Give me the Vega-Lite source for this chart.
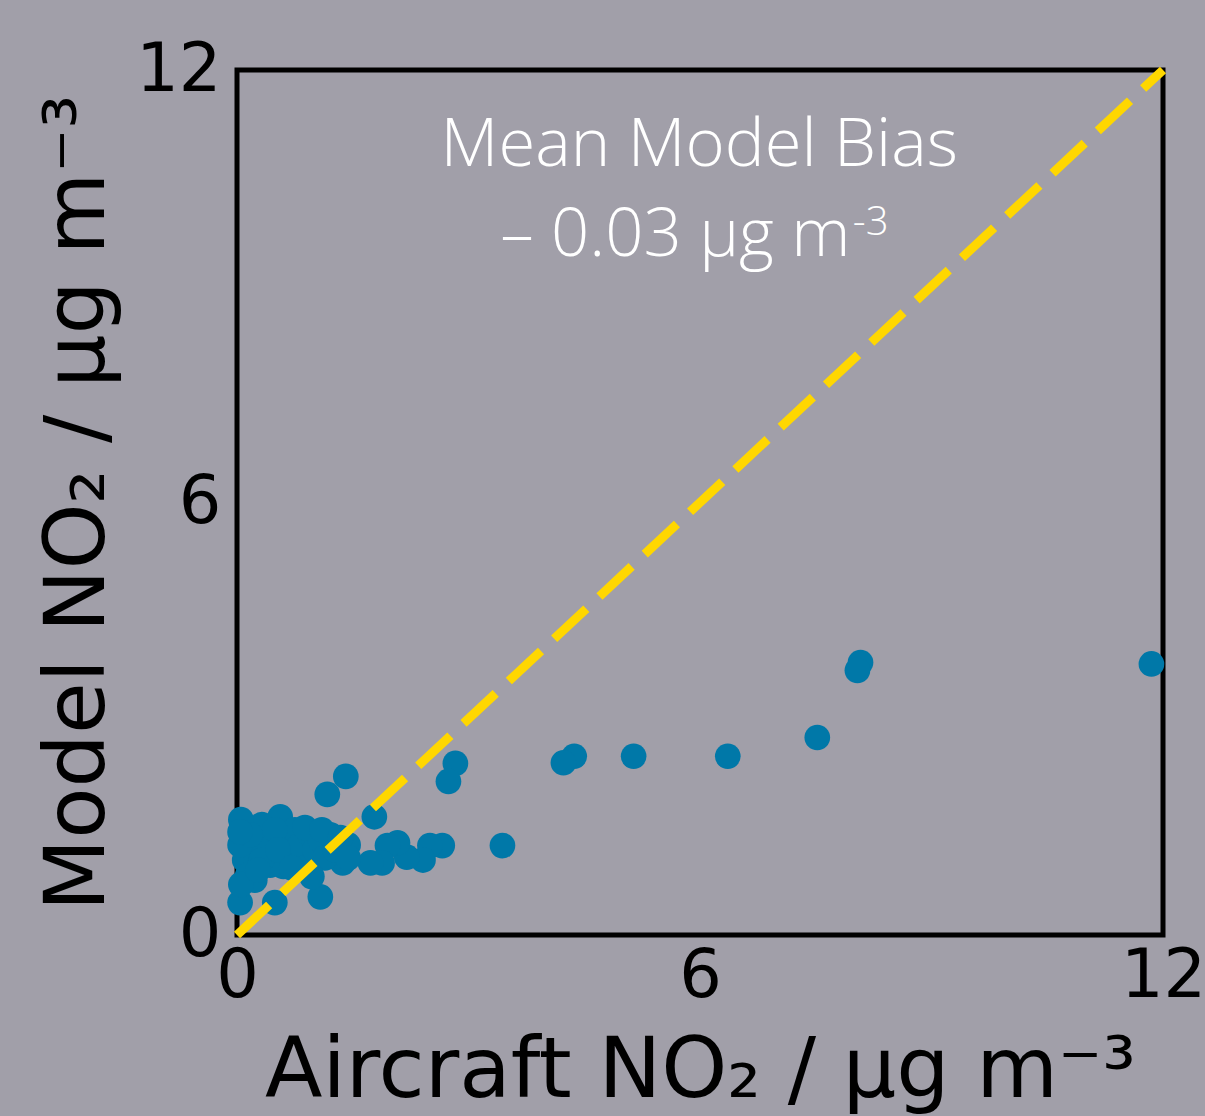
{
  "$schema": "https://vega.github.io/schema/vega-lite/v6.json",
  "width": 926,
  "height": 865,
  "autosize": {"type": "none"},
  "padding": {"left": 237, "top": 70, "right": 42, "bottom": 181},
  "background": "#a19fa9",
  "config": {
    "view": {"stroke": "black", "strokeWidth": 5, "fill": null},
    "axis": {
      "grid": false,
      "ticks": false,
      "domain": false,
      "format": "d",
      "labelFont": "DejaVu Sans",
      "labelFontSize": 67,
      "labelColor": "black",
      "labelOverlap": false,
      "labelFlush": false,
      "labelBound": false,
      "titleFont": "DejaVu Sans",
      "titleFontSize": 84,
      "titleFontWeight": "normal",
      "titleColor": "black"
    }
  },
  "datasets": {
    "pts": [
      {"aircraft": 11.85, "model": 3.76},
      {"aircraft": 8.08, "model": 3.78},
      {"aircraft": 8.04, "model": 3.67},
      {"aircraft": 7.52, "model": 2.74},
      {"aircraft": 6.36, "model": 2.48},
      {"aircraft": 5.14, "model": 2.48},
      {"aircraft": 4.37, "model": 2.48},
      {"aircraft": 4.23, "model": 2.39},
      {"aircraft": 2.83, "model": 2.38},
      {"aircraft": 2.74, "model": 2.13},
      {"aircraft": 3.44, "model": 1.24},
      {"aircraft": 1.41, "model": 2.2},
      {"aircraft": 1.17, "model": 1.95},
      {"aircraft": 1.78, "model": 1.64},
      {"aircraft": 2.66, "model": 1.24},
      {"aircraft": 2.5, "model": 1.24},
      {"aircraft": 2.41, "model": 1.04},
      {"aircraft": 2.2, "model": 1.08},
      {"aircraft": 2.08, "model": 1.28},
      {"aircraft": 1.95, "model": 1.24},
      {"aircraft": 1.88, "model": 1.0},
      {"aircraft": 1.73, "model": 1.0},
      {"aircraft": 1.37, "model": 1.0},
      {"aircraft": 1.37, "model": 1.28},
      {"aircraft": 1.08, "model": 0.53},
      {"aircraft": 0.49, "model": 0.45},
      {"aircraft": 0.04, "model": 0.45},
      {"aircraft": 0.12, "model": 1.46},
      {"aircraft": 0.17, "model": 1.25},
      {"aircraft": 0.1, "model": 1.04},
      {"aircraft": 0.14, "model": 0.83},
      {"aircraft": 0.27, "model": 1.35},
      {"aircraft": 0.36, "model": 1.18},
      {"aircraft": 0.43, "model": 0.97},
      {"aircraft": 0.56, "model": 1.64},
      {"aircraft": 0.62, "model": 1.32},
      {"aircraft": 0.69, "model": 1.11},
      {"aircraft": 0.75, "model": 1.46},
      {"aircraft": 0.82, "model": 1.25},
      {"aircraft": 0.88, "model": 0.93},
      {"aircraft": 0.95, "model": 1.39},
      {"aircraft": 1.01, "model": 1.18},
      {"aircraft": 1.08, "model": 1.32},
      {"aircraft": 1.14, "model": 1.07},
      {"aircraft": 1.21, "model": 1.39},
      {"aircraft": 1.27, "model": 1.18},
      {"aircraft": 0.23, "model": 0.76},
      {"aircraft": 0.97, "model": 0.81},
      {"aircraft": 0.32, "model": 1.53},
      {"aircraft": 0.04, "model": 1.25},
      {"aircraft": 0.49, "model": 1.46},
      {"aircraft": 1.44, "model": 1.25},
      {"aircraft": 0.05, "model": 1.6},
      {"aircraft": 0.3, "model": 1.0},
      {"aircraft": 0.6, "model": 0.95},
      {"aircraft": 0.05, "model": 0.7},
      {"aircraft": 0.17, "model": 1.39},
      {"aircraft": 0.32, "model": 1.04},
      {"aircraft": 0.53, "model": 1.18},
      {"aircraft": 0.71, "model": 0.93},
      {"aircraft": 0.88, "model": 1.49},
      {"aircraft": 1.1, "model": 1.46},
      {"aircraft": 1.34, "model": 1.35},
      {"aircraft": 1.44, "model": 1.07},
      {"aircraft": 0.27, "model": 0.9},
      {"aircraft": 0.04, "model": 1.43}
    ],
    "diag": [{"aircraft": 0, "model": 0}, {"aircraft": 12, "model": 12}],
    "ann1": [{"x": 5.99, "y": 10.67, "t": "Mean Model Bias"}],
    "ann2": [{"x": 7.95, "y": 9.42, "t": "– 0.03 μg m"}],
    "sup": [{"x": 7.98, "y": 9.71, "t": "-3"}]
  },
  "layer": [
    {
      "data": {"name": "pts"},
      "mark": {"type": "circle", "size": 660, "opacity": 1, "color": "#0078a8"},
      "encoding": {
        "x": {
          "field": "aircraft", "type": "quantitative",
          "scale": {"domain": [0, 12], "nice": false},
          "axis": {"values": [0, 6, 12], "labelPadding": 8, "title": "Aircraft NO₂ / μg m⁻³", "titlePadding": 21}
        },
        "y": {
          "field": "model", "type": "quantitative",
          "scale": {"domain": [0, 12], "nice": false},
          "axis": {"values": [0, 6, 12], "labelPadding": 16, "title": "Model NO₂ / μg m⁻³", "titlePadding": 14}
        }
      }
    },
    {
      "data": {"name": "diag"},
      "mark": {"type": "line", "color": "#ffd700", "strokeWidth": 9, "strokeDash": [44, 18], "strokeCap": "butt"},
      "encoding": {
        "x": {"field": "aircraft", "type": "quantitative"},
        "y": {"field": "model", "type": "quantitative"}
      }
    },
    {
      "data": {"name": "ann1"},
      "mark": {"type": "text", "font": "Open Sans", "fontWeight": 300, "fontSize": 67, "color": "white", "align": "center", "baseline": "alphabetic"},
      "encoding": {
        "x": {"field": "x", "type": "quantitative"},
        "y": {"field": "y", "type": "quantitative"},
        "text": {"field": "t"}
      }
    },
    {
      "data": {"name": "ann2"},
      "mark": {"type": "text", "font": "Open Sans", "fontWeight": 300, "fontSize": 67, "color": "white", "align": "right", "baseline": "alphabetic"},
      "encoding": {
        "x": {"field": "x", "type": "quantitative"},
        "y": {"field": "y", "type": "quantitative"},
        "text": {"field": "t"}
      }
    },
    {
      "data": {"name": "sup"},
      "mark": {"type": "text", "font": "Open Sans", "fontWeight": 300, "fontSize": 40, "color": "white", "align": "left", "baseline": "alphabetic"},
      "encoding": {
        "x": {"field": "x", "type": "quantitative"},
        "y": {"field": "y", "type": "quantitative"},
        "text": {"field": "t"}
      }
    }
  ]
}
